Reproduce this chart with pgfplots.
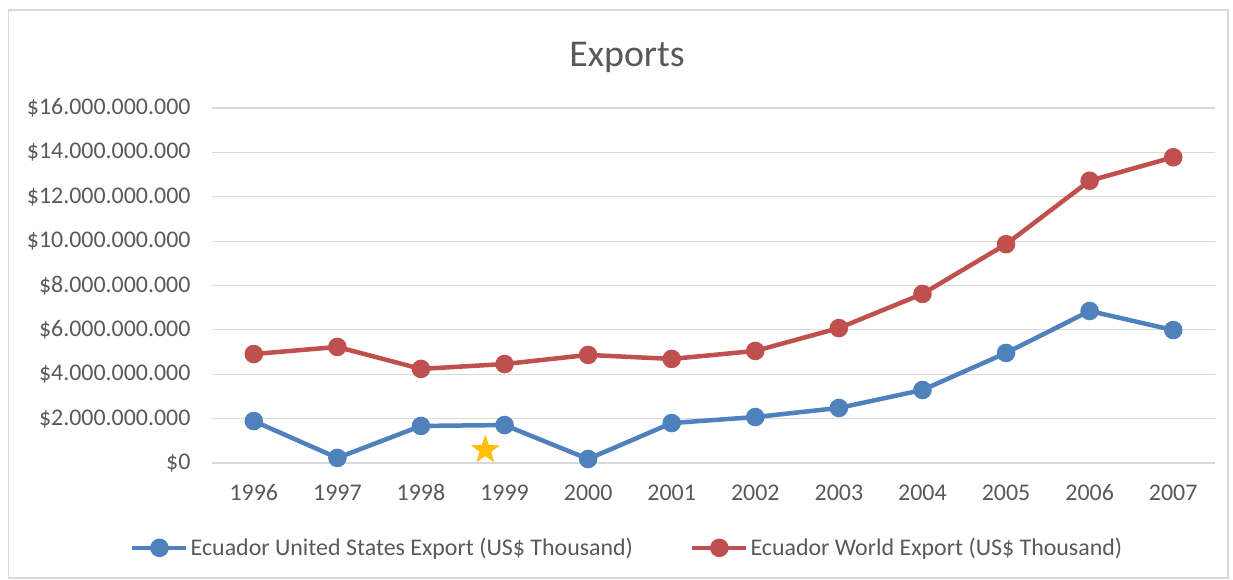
\documentclass[border=0pt]{standalone}
\usepackage{fontspec}
\setmainfont{Carlito}
\usepackage{pgfplots}
\pgfplotsset{compat=1.18}
\definecolor{sblue}{HTML}{4F81BD}
\definecolor{sred}{HTML}{C0504D}
\definecolor{txt}{HTML}{595959}
\definecolor{gridc}{HTML}{D9D9D9}
\definecolor{gold}{HTML}{FFC000}
\pgfdeclareplotmark{fstar}{%
  \pgfpathmoveto{\pgfpointpolar{90}{\pgfplotmarksize}}%
  \pgfpathlineto{\pgfpointpolar{126}{0.4\pgfplotmarksize}}%
  \pgfpathlineto{\pgfpointpolar{162}{\pgfplotmarksize}}%
  \pgfpathlineto{\pgfpointpolar{198}{0.4\pgfplotmarksize}}%
  \pgfpathlineto{\pgfpointpolar{234}{\pgfplotmarksize}}%
  \pgfpathlineto{\pgfpointpolar{270}{0.4\pgfplotmarksize}}%
  \pgfpathlineto{\pgfpointpolar{306}{\pgfplotmarksize}}%
  \pgfpathlineto{\pgfpointpolar{342}{0.4\pgfplotmarksize}}%
  \pgfpathlineto{\pgfpointpolar{18}{\pgfplotmarksize}}%
  \pgfpathlineto{\pgfpointpolar{54}{0.4\pgfplotmarksize}}%
  \pgfpathclose
  \pgfusepathqfillstroke}
\begin{document}
\begin{tikzpicture}[x=1bp,y=1bp]
\useasboundingbox (0,0) rectangle (1233,580);
\fill[white] (0,0) rectangle (1233,580);
\draw[gridc, line width=1.2bp] (8.5,2) rectangle (1228,570);
\node[txt, font=\fontsize{38}{44}\selectfont] at (627,523) {Exports};
\begin{axis}[at={(212bp,117bp)}, anchor=south west, scale only axis,
  width=1003bp, height=355bp,
  xmin=-0.5, xmax=11.5, ymin=0, ymax=16e9,
  scaled y ticks=false,
  xtick={0,1,2,3,4,5,6,7,8,9,10,11},
  xticklabels={1996,1997,1998,1999,2000,2001,2002,2003,2004,2005,2006,2007},
  ytick={0,2e9,4e9,6e9,8e9,10e9,12e9,14e9,16e9},
  yticklabels={\$0,\$2.000.000.000,\$4.000.000.000,\$6.000.000.000,\$8.000.000.000,\$10.000.000.000,\$12.000.000.000,\$14.000.000.000,\$16.000.000.000},
  axis line style={draw=none},
  major tick length=0pt,
  ymajorgrids, grid style={gridc, line width=1.2bp},
  tick label style={txt, font=\fontsize{24}{28}\selectfont},
  yticklabel style={xshift=-18bp},
  xticklabel style={yshift=-18bp},
  clip=false,
  legend style={at={(0.414,-0.239)}, anchor=center, draw=none, fill=none,
    font=\fontsize{24}{28}\selectfont, text=txt,
    /tikz/every even column/.append style={column sep=55bp}},
  legend columns=2,
  legend cell align=left,
  legend image code/.code={\draw[mark repeat=2, mark phase=2] plot coordinates {(0bp,0bp)(27bp,0bp)(54bp,0bp)};},
]
\addplot[sblue, line width=4.5bp, mark=*, mark size=7bp, mark options={solid}] coordinates {
(0,1.89e9)(1,0.23e9)(2,1.67e9)(3,1.71e9)(4,0.18e9)(5,1.80e9)(6,2.07e9)(7,2.48e9)(8,3.29e9)(9,4.96e9)(10,6.85e9)(11,5.99e9)};
\addlegendentry{Ecuador United States Export (US\$ Thousand)}
\addplot[sred, line width=4.5bp, mark=*, mark size=7bp, mark options={solid}] coordinates {
(0,4.91e9)(1,5.23e9)(2,4.24e9)(3,4.46e9)(4,4.87e9)(5,4.69e9)(6,5.05e9)(7,6.08e9)(8,7.62e9)(9,9.86e9)(10,12.72e9)(11,13.78e9)};
\addlegendentry{Ecuador World Export (US\$ Thousand)}
\addplot[forget plot, only marks, mark=fstar, mark size=14bp, draw=gold!85!orange, fill=gold, line width=0.6bp] coordinates {(2.77,0.586e9)};
\end{axis}
\end{tikzpicture}
\end{document}
